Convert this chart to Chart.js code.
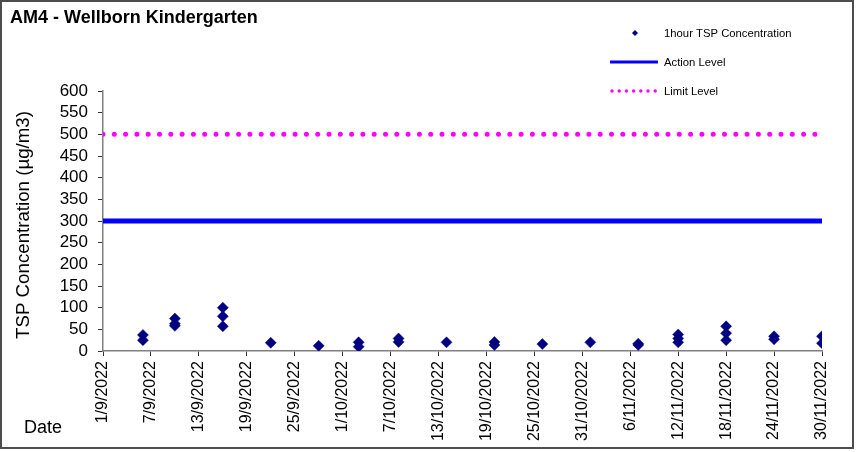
<!DOCTYPE html>
<html>
<head>
<meta charset="utf-8">
<script src="https://cdn.jsdelivr.net/npm/chart.js@4.4.1/dist/chart.umd.min.js"></script>
<style>
  html, body { margin: 0; padding: 0; background: #fff; }
  #wrap { width: 857px; height: 452px; position: relative; }
</style>
</head>
<body>
<div id="wrap"><canvas id="c" width="857" height="452"></canvas></div>
<script>
// ---- data ----
const chartTitle = 'AM4 - Wellborn Kindergarten';
const yAxisTitle = 'TSP Concentration (µg/m3)';
const xAxisTitle = 'Date';
const startDate = '1/9/2022';
const endDate = '30/11/2022';
const tickStepDays = 6;
const yTicksMax = 600;
const yTickStep = 50;

const sampleDates = [
  '6/9/2022', '6/9/2022',
  '10/9/2022', '10/9/2022', '10/9/2022',
  '16/9/2022', '16/9/2022', '16/9/2022',
  '22/9/2022',
  '28/9/2022',
  '3/10/2022', '3/10/2022',
  '8/10/2022', '8/10/2022',
  '14/10/2022',
  '20/10/2022', '20/10/2022',
  '26/10/2022',
  '1/11/2022',
  '7/11/2022', '7/11/2022',
  '12/11/2022', '12/11/2022', '12/11/2022',
  '18/11/2022', '18/11/2022', '18/11/2022',
  '24/11/2022', '24/11/2022',
  '30/11/2022', '30/11/2022'
];
const tspValues = [
  37, 25,
  75, 63, 58,
  100, 80, 57,
  19,
  12,
  20, 10,
  29, 21,
  20,
  21, 14,
  16,
  20,
  17, 14,
  38, 29, 20,
  57, 41, 25,
  34, 27,
  34, 18
];
const actionLevel = 300;
const limitLevel = 500;
const seriesNames = ['1hour TSP Concentration', 'Action Level', 'Limit Level'];

// ---- helpers ----
function parseDMY(s) {
  const [d, m, y] = s.split('/').map(Number);
  return Date.UTC(y, m - 1, d);
}
const DAY = 86400000;
const t0 = parseDMY(startDate);
const span = Math.round((parseDMY(endDate) - t0) / DAY);
function dayIndex(s) { return Math.round((parseDMY(s) - t0) / DAY); }
function fmtDay(n) {
  const dt = new Date(t0 + n * DAY);
  return dt.getUTCDate() + '/' + (dt.getUTCMonth() + 1) + '/' + dt.getUTCFullYear();
}

const FONT = '"Liberation Sans", Arial, sans-serif';
const NAVY = '#000080';
const BLUE = '#0000FF';
const MAGENTA = '#FF00FF';

const points = sampleDates.map((d, i) => ({ x: dayIndex(d), y: tspValues[i] }));

const decorPlugin = {
  id: 'decor',
  beforeDraw(chart) {
    const ctx = chart.ctx;
    ctx.save();
    ctx.fillStyle = '#fff';
    ctx.fillRect(0, 0, chart.width, chart.height);
    ctx.restore();
  },
  afterDraw(chart) {
    const ctx = chart.ctx;
    ctx.save();
    // outer border
    ctx.strokeStyle = '#4d4d4d';
    ctx.lineWidth = 2;
    ctx.strokeRect(1, 1, 852, 447);
    // title
    ctx.fillStyle = '#000';
    ctx.font = 'bold 18px ' + FONT;
    ctx.textAlign = 'left';
    ctx.textBaseline = 'alphabetic';
    ctx.fillText(chartTitle, 10, 23);
    // x title
    ctx.font = '18px ' + FONT;
    ctx.fillText(xAxisTitle, 24, 433);
    // y title
    ctx.save();
    ctx.translate(29, 225);
    ctx.rotate(-Math.PI / 2);
    ctx.textAlign = 'center';
    ctx.font = '18.7px ' + FONT;
    ctx.fillText(yAxisTitle, 0, 0);
    ctx.restore();
    // legend
    ctx.font = '11.3px ' + FONT;
    ctx.textAlign = 'left';
    ctx.textBaseline = 'middle';
    const lx = 664;
    const rows = [33, 62, 91];
    // marker
    ctx.fillStyle = NAVY;
    ctx.beginPath();
    ctx.moveTo(635, rows[0] - 3);
    ctx.lineTo(638, rows[0]);
    ctx.lineTo(635, rows[0] + 3);
    ctx.lineTo(632, rows[0]);
    ctx.closePath();
    ctx.fill();
    // action line
    ctx.strokeStyle = BLUE;
    ctx.lineWidth = 3;
    ctx.beginPath();
    ctx.moveTo(610, rows[1]);
    ctx.lineTo(658, rows[1]);
    ctx.stroke();
    // limit dots
    ctx.fillStyle = MAGENTA;
    for (let i = 0; i < 7; i++) {
      ctx.beginPath();
      ctx.arc(612 + i * 7.2, rows[2], 1.7, 0, Math.PI * 2);
      ctx.fill();
    }
    ctx.fillStyle = '#000';
    seriesNames.forEach((n, i) => ctx.fillText(n, lx, rows[i] + 1));
    ctx.restore();
  }
};

new Chart(document.getElementById('c'), {
  type: 'scatter',
  data: {
    datasets: [
      {
        label: seriesNames[0],
        data: points,
        pointStyle: 'rectRot',
        pointRadius: 5.5,
        pointBackgroundColor: NAVY,
        pointBorderColor: NAVY,
        pointBorderWidth: 0.5,
        showLine: false,
        order: 0
      },
      {
        label: seriesNames[1],
        type: 'line',
        data: [{ x: 0, y: actionLevel }, { x: span, y: actionLevel }],
        borderColor: BLUE,
        borderWidth: 5,
        pointRadius: 0,
        fill: false,
        order: 1
      },
      {
        label: seriesNames[2],
        type: 'line',
        data: [{ x: 0, y: limitLevel }, { x: span, y: limitLevel }],
        borderColor: MAGENTA,
        borderWidth: 5,
        borderDash: [0, 11.3],
        borderCapStyle: 'round',
        pointRadius: 0,
        fill: false,
        order: 2
      }
    ]
  },
  plugins: [decorPlugin],
  options: {
    responsive: false,
    animation: false,
    devicePixelRatio: 1,
    layout: { padding: { top: 91, right: 35, bottom: 0, left: 0 } },
    plugins: {
      legend: { display: false },
      title: { display: false },
      tooltip: { enabled: false }
    },
    scales: {
      x: {
        type: 'linear',
        min: 0,
        max: span,
        afterBuildTicks(scale) {
          const t = [];
          for (let d = 0; d <= span; d += tickStepDays) t.push({ value: d });
          scale.ticks = t;
        },
        afterFit(scale) { scale.height = 101; },
        grid: { drawOnChartArea: false, drawTicks: true, tickLength: 5, tickColor: '#333' },
        border: { display: true, color: '#808080', width: 1.5 },
        ticks: {
          autoSkip: false,
          minRotation: 90,
          maxRotation: 90,
          padding: 5,
          color: '#000',
          font: { family: FONT, size: 16 },
          callback: (v) => fmtDay(v)
        }
      },
      y: {
        type: 'linear',
        min: 0,
        max: yTicksMax,
        afterFit(scale) { scale.width = 103; },
        grid: { drawOnChartArea: false, drawTicks: true, tickLength: 5, tickColor: '#333' },
        border: { display: true, color: '#808080', width: 1.5 },
        ticks: {
          stepSize: yTickStep,
          autoSkip: false,
          padding: 10,
          color: '#000',
          font: { family: FONT, size: 17 }
        }
      }
    }
  }
});
</script>
</body>
</html>
